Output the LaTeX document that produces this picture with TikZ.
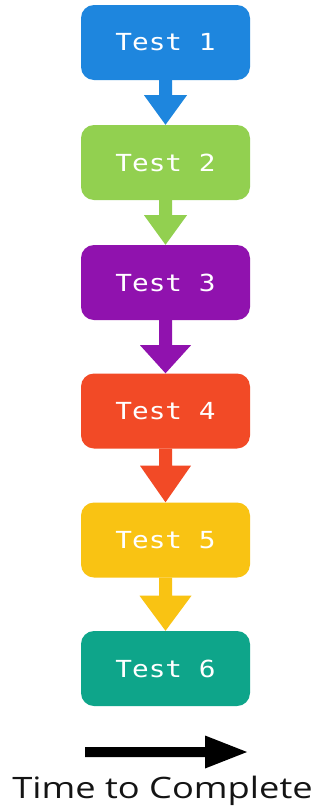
\documentclass[tikz,border=0pt]{standalone}
\usepackage{fontspec}
\setmainfont{Open Sans}
\newfontfamily\boxfont{DejaVu Sans Mono}
\definecolor{cblue}{HTML}{1E86DE}
\definecolor{cgreen}{HTML}{92D050}
\definecolor{cpurple}{HTML}{9012AE}
\definecolor{corange}{HTML}{F24A26}
\definecolor{cyellow}{HTML}{F9C313}
\definecolor{cteal}{HTML}{0EA58A}
% block arrow from the bottom of #1 to the top of #2:
% #3 colour, #4 shaft length, #5 half width of the head
\newcommand\flowarrow[5]{%
  \fill[#3] ([xshift=-6.5pt]#1.south) -- ([xshift=6.5pt]#1.south)
    -- ([xshift=6.5pt,yshift=-#4]#1.south) -- ([xshift=#5,yshift=-#4]#1.south)
    -- (#2.north) -- ([xshift=-#5,yshift=-#4]#1.south)
    -- ([xshift=-6.5pt,yshift=-#4]#1.south) -- cycle;}
\begin{document}
\begin{tikzpicture}[x=1pt,y=-1pt,
  testbox/.style={fill=#1, rounded corners=13pt, minimum width=169pt,
    minimum height=75pt, inner sep=0pt, text=white,
    font=\boxfont\fontsize{23.5}{28}\selectfont}]
\useasboundingbox (0,0) rectangle (320,809);
\fill[white] (0,0) rectangle (320,809);
\newcommand\testlabel[1]{\scalebox{1.18}[1]{#1}}
\node[testbox=cblue]   (t1) at (165.5,42.5)  {\testlabel{Test 1}};
\node[testbox=cgreen]  (t2) at (165.5,162.5) {\testlabel{Test 2}};
\node[testbox=cpurple] (t3) at (165.5,282.5) {\testlabel{Test 3}};
\node[testbox=corange] (t4) at (165.5,411)   {\testlabel{Test 4}};
\node[testbox=cyellow] (t5) at (165.5,540)   {\testlabel{Test 5}};
\node[testbox=cteal]   (t6) at (165.5,668.5) {\testlabel{Test 6}};
\flowarrow{t1}{t2}{cblue}{15pt}{21.5pt}
\flowarrow{t2}{t3}{cgreen}{15pt}{21.5pt}
\flowarrow{t3}{t4}{cpurple}{25pt}{25.5pt}
\flowarrow{t4}{t5}{corange}{17pt}{25.5pt}
\flowarrow{t5}{t6}{cyellow}{18pt}{26pt}
% time axis
\coordinate (ts) at (85,752);
\coordinate (te) at (247,752);
\fill[black] ([yshift=5pt]ts) -- ([yshift=5pt,xshift=-42pt]te)
  -- ([yshift=16.5pt,xshift=-42pt]te) -- (te)
  -- ([yshift=-16.5pt,xshift=-42pt]te) -- ([yshift=-5pt,xshift=-42pt]te)
  -- ([yshift=-5pt]ts) -- cycle;
\node[anchor=base, inner sep=0pt, font=\fontsize{29.5}{35}\selectfont, text=black!92]
  (lbl) at (162.5,798) {\scalebox{1.23}[1]{Time to Complete}};
\end{tikzpicture}
\end{document}
